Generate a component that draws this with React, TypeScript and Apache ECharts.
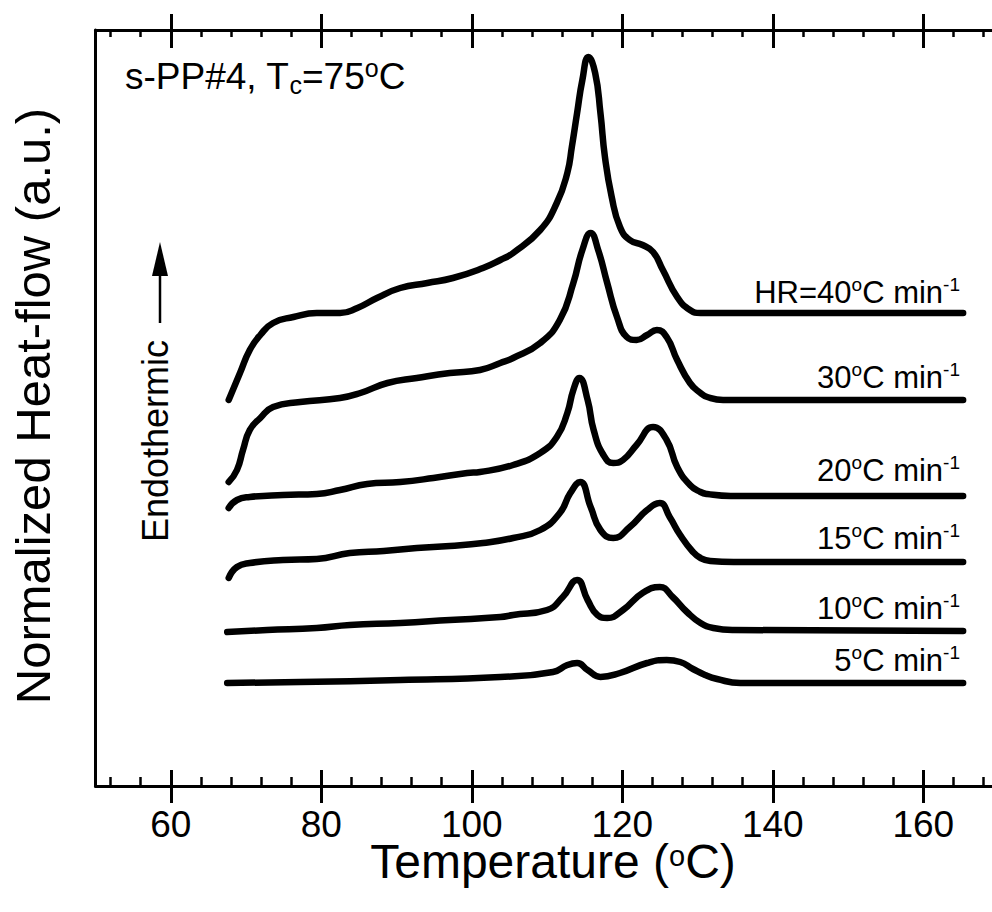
import React, { useEffect, useRef } from "react";
import * as echarts from "echarts";

const FONT = "'Liberation Sans', Arial, Helvetica, sans-serif";

// Temperature axis ticks (°C)
const tempMajorTicks = [60, 80, 100, 120, 140, 160];
const tempMinorTicks = [52, 56, 64, 68, 72, 76, 84, 88, 92, 96, 104, 108, 112, 116, 124, 128, 132, 136, 144, 148, 152, 156, 164, 168];

// Heat-flow curves [temperature °C, normalized heat flow (a.u., offset)]
const hr40: [number, number][] = [
  [67.7, 38.6], [69.2, 41.3], [70.5, 43.6], [71.9, 45.1], [73.6, 46.3], [76.3, 46.9], [79.4, 47.3], [82.5, 47.3],
  [84.8, 47.8], [87.4, 48.8], [90.5, 49.8], [94.1, 50.3], [97.5, 50.8], [101.5, 51.8], [103.8, 52.6], [105.5, 53.3],
  [109.1, 55.6], [111.3, 58.3], [112.7, 61.3], [113.3, 63.9], [114.0, 67.3], [114.7, 70.6], [115.5, 72.9], [116.4, 71.3],
  [117.1, 67.3], [117.7, 62.9], [118.6, 58.9], [119.7, 55.9], [121.0, 54.6], [122.7, 54.1], [124.1, 53.4], [125.4, 51.6],
  [127.3, 48.9], [129.0, 47.6], [130.4, 47.3], [132.1, 47.3], [165.3, 47.3],
];
const hr30: [number, number][] = [
  [67.7, 30.4], [68.8, 31.6], [69.6, 33.6], [70.5, 35.6], [71.9, 36.8], [73.6, 37.9], [77.2, 38.4], [82.5, 38.8],
  [85.2, 39.3], [88.8, 40.3], [92.7, 40.8], [97.1, 41.3], [101.1, 41.6], [103.8, 42.3], [105.5, 42.8], [109.1, 44.3],
  [111.7, 46.6], [113.5, 50.3], [114.7, 53.6], [115.8, 55.3], [116.8, 53.6], [118.0, 50.3], [119.3, 46.9], [120.6, 44.9],
  [121.9, 44.6], [123.3, 45.1], [124.6, 45.6], [125.9, 44.9], [127.3, 42.6], [129.0, 40.3], [130.4, 39.3], [131.3, 38.9],
  [133.4, 38.6], [165.3, 38.6],
];
const hr20: [number, number][] = [
  [67.7, 27.8], [68.8, 28.6], [70.5, 28.9], [74.9, 29.1], [79.4, 29.2], [82.5, 29.6], [86.1, 30.2], [90.5, 30.4],
  [94.9, 30.8], [99.4, 31.3], [101.1, 31.4], [105.5, 32.1], [109.1, 33.3], [111.3, 34.9], [112.7, 37.3], [113.5, 39.6],
  [114.3, 40.8], [115.4, 38.6], [116.2, 35.6], [117.5, 33.1], [118.8, 32.3], [120.1, 32.6], [121.9, 34.1], [124.1, 35.9],
  [125.9, 34.6], [127.3, 31.9], [129.0, 30.1], [130.4, 29.4], [131.3, 29.2], [134.4, 29.0], [165.3, 29.0],
];
const hr15: [number, number][] = [
  [67.7, 20.8], [68.8, 21.9], [70.5, 22.3], [74.9, 22.6], [79.4, 22.7], [83.8, 23.3], [88.3, 23.5], [92.7, 23.8],
  [97.1, 24.0], [101.5, 24.3], [105.5, 24.8], [109.1, 25.6], [111.7, 27.3], [113.1, 29.3], [114.4, 30.4], [115.8, 27.9],
  [117.1, 25.6], [118.8, 24.8], [121.0, 25.9], [123.3, 27.6], [125.0, 28.3], [126.3, 26.9], [127.7, 25.1], [129.4, 23.4],
  [130.4, 22.8], [131.7, 22.5], [134.8, 22.4], [165.3, 22.4],
];
const hr10: [number, number][] = [
  [67.5, 15.4], [72.8, 15.6], [79.4, 15.8], [83.8, 16.1], [90.5, 16.3], [97.1, 16.6], [103.8, 16.9], [105.5, 17.1],
  [110.0, 17.6], [112.1, 18.9], [114.0, 20.6], [115.4, 18.6], [116.7, 17.1], [118.0, 16.8], [120.1, 17.6], [122.7, 19.3],
  [125.0, 19.9], [126.7, 18.9], [128.6, 17.4], [130.4, 16.3], [132.1, 15.8], [134.8, 15.6], [165.3, 15.5],
];
const hr5: [number, number][] = [
  [67.5, 10.3], [77.2, 10.4], [90.5, 10.6], [103.8, 10.9], [110.8, 11.4], [112.7, 12.1], [114.0, 12.3], [115.4, 11.6],
  [117.1, 10.9], [119.7, 11.3], [123.3, 12.3], [125.9, 12.6], [127.7, 12.4], [129.4, 11.7], [131.0, 11.1], [132.6, 10.7],
  [135.7, 10.3], [165.3, 10.3],
];

const curves = [hr40, hr30, hr20, hr15, hr10, hr5];
const rateLabels = ["HR=40", "30", "20", "15", "10", "5"];

export default function App() {
  const ref = useRef<HTMLDivElement>(null);

  useEffect(() => {
    if (!ref.current) return;
    const chart = echarts.init(ref.current, null, { renderer: "svg" });

    const black = "#000";
    const baseX: any = {
      type: "value",
      min: 50,
      max: 170,
      splitLine: { show: false },
      axisLabel: { show: false },
      axisTick: { show: false },
      axisLine: { show: false, onZero: false },
    };
    const axisLineStyle = { show: true, onZero: false, lineStyle: { color: black, width: 3 } };
    const tick = (inside: boolean, length: number, values: number[], width = 3) => ({
      show: true,
      inside,
      length,
      customValues: values,
      lineStyle: { color: black, width },
    });

    const labelYs = [292, 377, 470, 538, 608, 660];
    const labelGraphics = rateLabels.map((r, i) => ({
      type: "text",
      x: 960,
      y: labelYs[i],
      style: {
        text: `{t|${r}}{s|o}{t|C min}{s|-1}`,
        align: "right",
        verticalAlign: "middle",
        fill: black,
        rich: {
          t: { fontSize: 31, lineHeight: 34, fontFamily: FONT, fill: black },
          s: { fontSize: 19, lineHeight: 17, verticalAlign: "top", fontFamily: FONT, fill: black },
        },
      },
    }));

    const option: any = {
      animation: false,
      backgroundColor: "#fff",
      grid: { left: 95.5, right: 11.5, top: 30, bottom: 126, containLabel: false, outerBoundsMode: "none" },
      xAxis: [
        {
          ...baseX,
          position: "bottom",
          axisLine: axisLineStyle,
          axisTick: tick(true, 16, tempMajorTicks),
          axisLabel: {
            show: true,
            customValues: tempMajorTicks,
            margin: 24,
            fontSize: 37,
            lineHeight: 28,
            color: black,
            fontFamily: FONT,
          },
        },
        { ...baseX, position: "bottom", axisTick: tick(false, 17, tempMajorTicks) },
        { ...baseX, position: "bottom", axisTick: tick(true, 9, tempMinorTicks, 2.5) },
        { ...baseX, position: "top", axisLine: axisLineStyle, axisTick: tick(true, 18, tempMajorTicks) },
        { ...baseX, position: "top", axisTick: tick(false, 16, tempMajorTicks) },
        { ...baseX, position: "top", axisTick: tick(true, 7, tempMinorTicks, 2.5) },
      ],
      yAxis: [
        {
          type: "value",
          min: 0,
          max: 75.6,
          position: "left",
          axisLine: axisLineStyle,
          axisTick: { show: false },
          axisLabel: { show: false },
          splitLine: { show: false },
        },
        {
          type: "value",
          min: 0,
          max: 75.6,
          position: "right",
          axisLine: axisLineStyle,
          axisTick: { show: false },
          axisLabel: { show: false },
          splitLine: { show: false },
        },
      ],
      series: curves.map((data, i) => ({
        type: "line",
        name: rateLabels[i],
        data,
        xAxisIndex: 0,
        yAxisIndex: 0,
        showSymbol: false,
        symbol: "none",
        smooth: 0.5,
        lineStyle: { color: black, width: 6.5, cap: "round", join: "round" },
        silent: true,
        clip: false,
      })),
      graphic: [
        {
          type: "text",
          x: 125,
          y: 76,
          style: {
            text: "{t|s-PP#4, T}{sub|c}{t|=75}{sup|o}{t|C}",
            align: "left",
            verticalAlign: "middle",
            fill: black,
            rich: {
              t: { fontSize: 37, lineHeight: 42, fontFamily: FONT, fill: black },
              sub: { fontSize: 25, lineHeight: 22, verticalAlign: "bottom", fontFamily: FONT, fill: black },
              sup: { fontSize: 25, lineHeight: 22, verticalAlign: "top", fontFamily: FONT, fill: black },
            },
          },
        },
        {
          type: "text",
          x: 33,
          y: 406,
          rotation: Math.PI / 2,
          style: {
            text: "Normalized Heat-flow (a.u.)",
            align: "center",
            verticalAlign: "middle",
            fontSize: 49,
            fontFamily: FONT,
            fill: black,
          },
        },
        {
          type: "text",
          x: 553,
          y: 861,
          style: {
            text: "{t|Temperature (}{s|o}{t|C)}",
            align: "center",
            verticalAlign: "middle",
            fill: black,
            rich: {
              t: { fontSize: 48, lineHeight: 40, fontFamily: FONT, fill: black },
              s: { fontSize: 29, lineHeight: 12, verticalAlign: "top", fontFamily: FONT, fill: black },
            },
          },
        },
        {
          type: "text",
          x: 155,
          y: 441,
          rotation: Math.PI / 2,
          style: {
            text: "Endothermic",
            align: "center",
            verticalAlign: "middle",
            fontSize: 36,
            fontFamily: FONT,
            fill: black,
          },
        },
        {
          type: "line",
          shape: { x1: 160, y1: 323, x2: 160, y2: 272 },
          style: { stroke: black, lineWidth: 2.5 },
        },
        {
          type: "polygon",
          shape: { points: [[160, 242], [152, 276], [168, 276]] },
          style: { fill: black },
        },
        ...labelGraphics,
      ],
    };

    chart.setOption(option);
    return () => chart.dispose();
  }, []);

  return (
    <div
      style={{
        position: "fixed",
        left: 0,
        top: 0,
        width: 992,
        height: 912,
        overflow: "hidden",
        background: "#fff",
      }}
    >
      <div ref={ref} style={{ width: 1010, height: 912 }} />
    </div>
  );
}
